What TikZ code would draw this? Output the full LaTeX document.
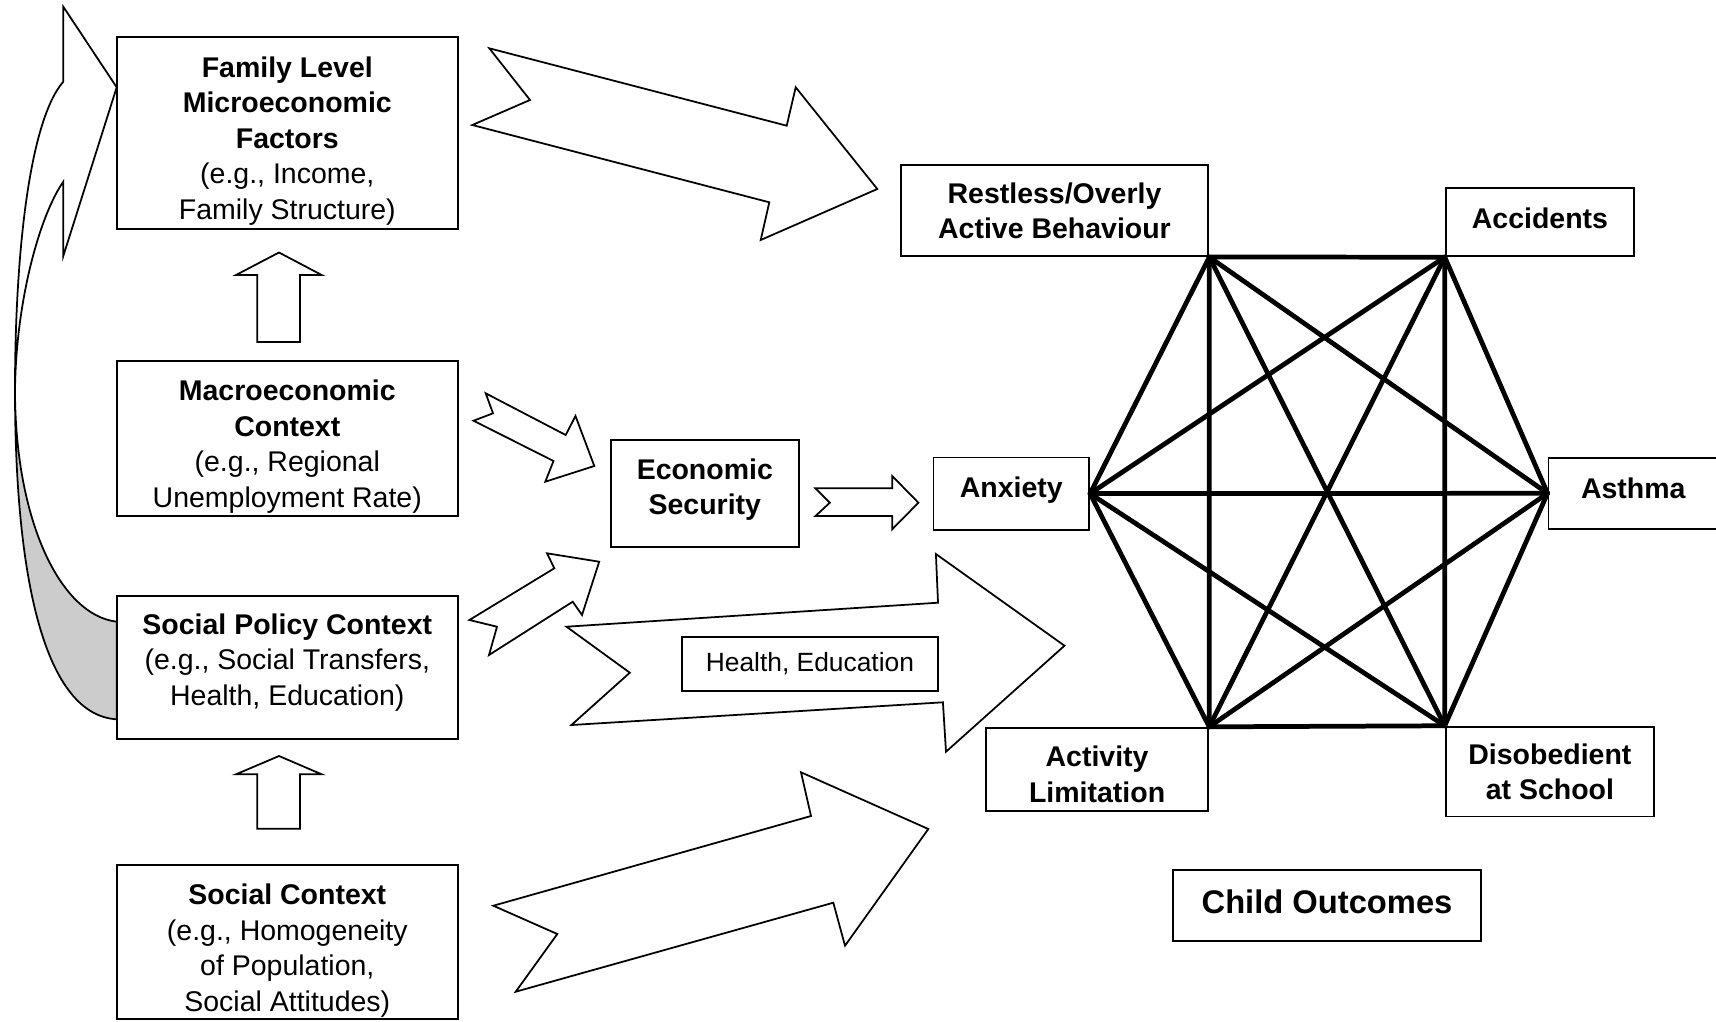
\documentclass[tikz,border=0pt]{standalone}
\usepackage{fontspec}
\setmainfont{Liberation Sans}
\newcommand{\txtup}[1]{\rule[-#1]{0pt}{0pt}}
\newcommand{\txtdown}[1]{\rule{0pt}{#1}}
\tikzset{
  bx/.style={draw, line width=0.55pt, fill=white, align=center, inner sep=0pt},
  blk/.style={draw, fill=white, line width=0.5pt, line join=miter},
  lnk/.style={line width=1.35pt, line cap=round},
  bigtxt/.style={font=\fontsize{9.3}{11}\selectfont\bfseries},
}

\begin{document}
\begin{tikzpicture}[x=0.01cm, y=-0.01cm, font=\fontsize{8.1}{10.1}\selectfont]
  \useasboundingbox (0,0) rectangle (1716,1021);
  % curved arrow: social policy back up to family level
  \coordinate (k) at (15,390);
  \filldraw[fill=black!20, line width=0.5pt] (k) .. controls (15,580) and (45,715) .. (116.7,719.3)
    -- (116.7,621.7) .. controls (60,615) and (15,520) .. (k) -- cycle;
  \draw[blk] (k) .. controls (15,250) and (30,120) .. (63.3,81.7) -- (63.3,6.7) -- (116.7,87.3)
    -- (63.3,256) -- (63.3,181.7) .. controls (40,215) and (16,300) .. (k) -- cycle;
  % block arrows
  \draw[blk] (489.3,48.3) -- (530,100) -- (472.3,125) -- (769.3,202.3) -- (760.7,240)
    -- (877.3,189) -- (795.7,87.3) -- (786.7,125.7) -- cycle;
  \draw[blk] (485.7,393.3) -- (493,413.3) -- (473.5,420.7) -- (553.5,461) -- (545.3,481.7)
    -- (594.3,466) -- (575.5,416) -- (565.7,435) -- cycle;
  \draw[blk] (469.4,620) -- (497,626.7) -- (489,655) -- (572.7,601.7) -- (582,615)
    -- (599.2,561.7) -- (547,553.3) -- (554.3,568.3) -- cycle;
  \draw[blk] (815.5,488.3) -- (829.8,502.7) -- (815.5,516) -- (892.2,516) -- (892.2,529.3)
    -- (918.4,502.7) -- (892.2,476) -- (892.2,488.3) -- cycle;
  \draw[blk] (566.5,626.7) -- (629.8,672.7) -- (571.4,725) -- (942.9,702.3) -- (946,751.7)
    -- (1064.5,645.7) -- (935.9,554) -- (938,602.7) -- cycle;
  \draw[blk] (493.3,905.7) -- (557.3,934) -- (515.7,991.7) -- (833.3,902.7) -- (845,945.7)
    -- (928.3,829) -- (801,772.3) -- (811,816) -- cycle;
  \draw[blk] (257.3,342) -- (257.3,275) -- (236,275) -- (279,252.5) -- (321.7,275)
    -- (300,275) -- (300,342) -- cycle;
  \draw[blk] (257.3,828.7) -- (257.3,774.3) -- (236,774.3) -- (279,756) -- (321.7,774.3)
    -- (300,774.3) -- (300,828.7) -- cycle;

  \node[bx, minimum width=3.404cm, minimum height=1.915cm] (fam) at (287.3,133)
    {\txtdown{10.3pt}\textbf{Family Level}\\\textbf{Microeconomic}\\\textbf{Factors}\\(e.g., Income,\\Family Structure)};
  \node[bx, minimum width=3.404cm, minimum height=1.543cm] (mac) at (287.3,438.4)
    {\txtdown{10.5pt}\textbf{Macroeconomic}\\\textbf{Context}\\(e.g., Regional\\Unemployment Rate)};
  \node[bx, minimum width=3.404cm, minimum height=1.423cm] (spol) at (287.3,667.5)
    {\textbf{Social Policy Context}\\(e.g., Social Transfers,\\Health, Education)\txtup{4.5pt}};
  \node[bx, minimum width=3.404cm, minimum height=1.544cm] (sctx) at (287.3,942)
    {\txtdown{10.9pt}\textbf{Social Context}\\(e.g., Homogeneity\\of Population,\\Social Attitudes)};
  \node[bx, minimum width=1.882cm, minimum height=1.072cm] (econ) at (704.8,493.6)
    {\textbf{Economic}\\\textbf{Security}\txtup{3.9pt}};
  \node[bx, minimum width=2.561cm, minimum height=0.536cm, font=\fontsize{7.5}{9}\selectfont] (hlth) at (809.9,663.8)
    {Health, Education};

  % child outcomes
  \node[bx, minimum width=1.555cm, minimum height=0.722cm] (anx) at (1011.3,493.6) {\textbf{Anxiety}\txtup{3.6pt}};
  \node[bx, minimum width=3.075cm, minimum height=0.908cm] (rest) at (1054.5,210.7)
    {\textbf{Restless/Overly}\\\textbf{Active Behaviour}};
  \node[bx, minimum width=1.883cm, minimum height=0.679cm] (acc) at (1539.9,222.2) {\textbf{Accidents}\txtup{2.5pt}};
  \node[bx, minimum width=1.695cm, minimum height=0.714cm] (ast) at (1633.3,493.3) {\textbf{Asthma}\txtup{3.1pt}};
  \node[bx, minimum width=2.222cm, minimum height=0.832cm] (act) at (1097.1,769.4)
    {\txtdown{8.7pt}\textbf{Activity}\\\textbf{Limitation}};
  \node[bx, minimum width=2.083cm, minimum height=0.897cm] (dis) at (1549.9,771.6)
    {\textbf{Disobedient}\\\textbf{at School}};
  \node[bx, bigtxt, minimum width=3.076cm, minimum height=0.712cm] (child) at (1327,905.6) {Child Outcomes\txtup{2.5pt}};

  \coordinate (vR) at (rest.south east);
  \coordinate (vA) at (acc.south west);
  \coordinate (vX) at (anx.east);
  \coordinate (vS) at (ast.west);
  \coordinate (vL) at (act.north east);
  \coordinate (vD) at (dis.north west);
  \foreach \a/\b in {R/A, R/X, R/S, R/L, R/D, A/X, A/S, A/L, A/D, X/S, X/L, X/D, S/L, S/D, L/D}
    \draw[lnk] (v\a) -- (v\b);
\end{tikzpicture}
\end{document}
